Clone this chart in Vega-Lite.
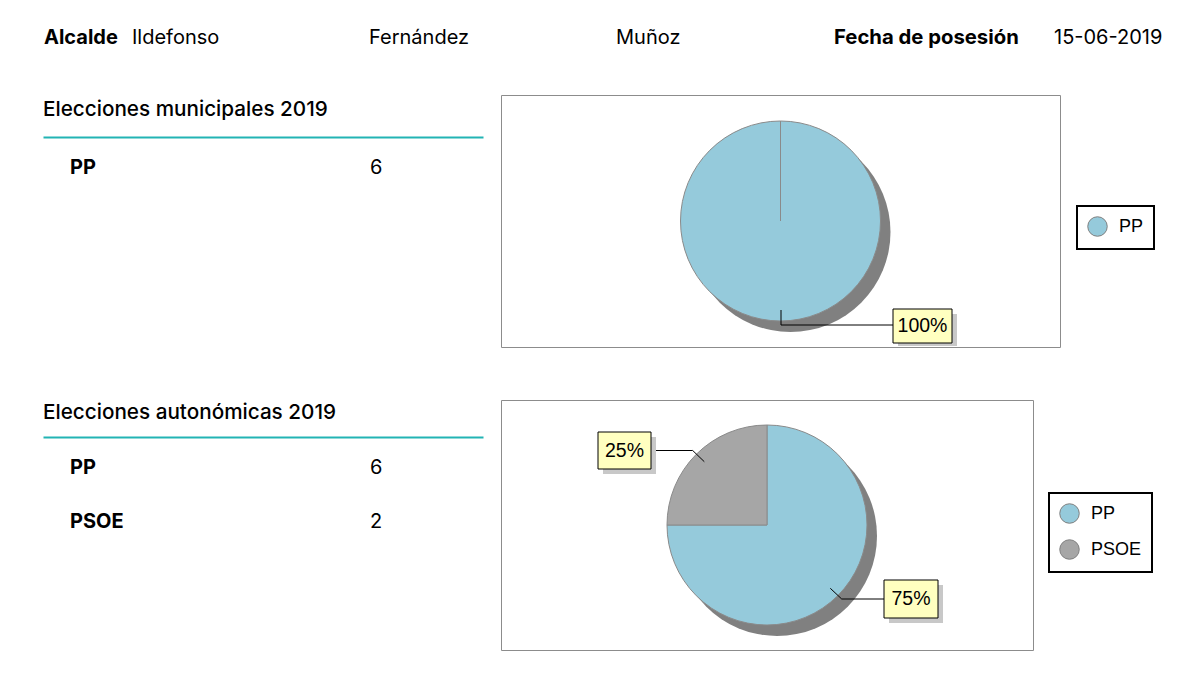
{
  "$schema": "https://vega.github.io/schema/vega-lite/v6.json",
  "background": "white",
  "padding": {"left": 43, "top": 20, "right": 0, "bottom": 0},
  "config": {
    "view": {"stroke": null},
    "font": "Inter",
    "text": {"color": "#000000"},
    "legend": {
      "padding": 10,
      "strokeColor": "#000000",
      "symbolType": "circle",
      "symbolSize": 380,
      "symbolStrokeColor": "#808080",
      "symbolStrokeWidth": 1,
      "symbolOpacity": 1,
      "labelFont": "Liberation Sans",
      "labelFontSize": 18,
      "labelColor": "#000000",
      "labelOffset": 11,
      "rowPadding": 11
    }
  },
  "datasets": {
    "alcalde": [{"nombre": "Ildefonso", "apellido1": "Fernández", "apellido2": "Muñoz", "fecha_posesion": "15-06-2019"}],
    "municipales_2019": [{"partido": "PP", "concejales": 6, "porcentaje": 1}],
    "autonomicas_2019": [
      {"partido": "PP", "concejales": 6, "porcentaje": 0.75},
      {"partido": "PSOE", "concejales": 2, "porcentaje": 0.25}
    ]
  },
  "spacing": 38,
  "resolve": {"scale": {"color": "independent", "theta": "independent"}, "legend": {"color": "independent"}},
  "vconcat": [
    {
      "spacing": 0,
      "hconcat": [
        {"width": 89, "height": 36, "data": {"name": "alcalde"},
         "mark": {"type": "text", "align": "left", "baseline": "middle", "fontSize": 20, "fontWeight": "bold", "dx": 1},
         "encoding": {"x": {"datum": "c", "type": "nominal", "scale": {"type": "point", "align": 0}, "axis": null}, "text": {"value": "Alcalde"}}},
        {"width": 237, "height": 36, "data": {"name": "alcalde"},
         "mark": {"type": "text", "align": "left", "baseline": "middle", "fontSize": 20},
         "encoding": {"x": {"datum": "c", "type": "nominal", "scale": {"type": "point", "align": 0}, "axis": null}, "text": {"field": "nombre"}}},
        {"width": 247, "height": 36, "data": {"name": "alcalde"},
         "mark": {"type": "text", "align": "left", "baseline": "middle", "fontSize": 20},
         "encoding": {"x": {"datum": "c", "type": "nominal", "scale": {"type": "point", "align": 0}, "axis": null}, "text": {"field": "apellido1"}}},
        {"width": 218, "height": 36, "data": {"name": "alcalde"},
         "mark": {"type": "text", "align": "left", "baseline": "middle", "fontSize": 20},
         "encoding": {"x": {"datum": "c", "type": "nominal", "scale": {"type": "point", "align": 0}, "axis": null}, "text": {"field": "apellido2"}}},
        {"width": 220, "height": 36, "data": {"name": "alcalde"},
         "mark": {"type": "text", "align": "left", "baseline": "middle", "fontSize": 20.3, "fontWeight": "bold"},
         "encoding": {"x": {"datum": "c", "type": "nominal", "scale": {"type": "point", "align": 0}, "axis": null}, "text": {"value": "Fecha de posesión"}}},
        {"width": 110, "height": 36, "data": {"name": "alcalde"},
         "mark": {"type": "text", "align": "left", "baseline": "middle", "fontSize": 20},
         "encoding": {"x": {"datum": "c", "type": "nominal", "scale": {"type": "point", "align": 0}, "axis": null}, "text": {"field": "fecha_posesion"}}}
      ]
    },
    {
      "spacing": 51,
      "resolve": {"scale": {"color": "independent", "theta": "independent"}, "legend": {"color": "independent"}},
      "vconcat": [
        {
          "spacing": 17,
          "resolve": {"scale": {"color": "independent", "theta": "independent"}, "legend": {"color": "independent"}},
          "hconcat": [
            {
              "spacing": 0,
              "vconcat": [
                {"width": 440, "height": 42,
                 "data": {"values": [{"titulo": "Elecciones municipales 2019"}]},
                 "mark": {"type": "text", "align": "left", "baseline": "alphabetic", "fontSize": 20.7, "fontWeight": 500},
                 "encoding": {
                   "x": {"field": "titulo", "type": "nominal", "scale": {"type": "point", "align": 0},
                         "axis": {"orient": "bottom", "domainColor": "#22b4b4", "domainWidth": 2, "ticks": false, "labels": false, "title": null, "grid": false}},
                   "text": {"field": "titulo"}}},
                {"width": 440, "height": {"step": 54},
                 "data": {"name": "municipales_2019"},
                 "encoding": {"y": {"field": "partido", "type": "nominal", "scale": {"type": "point", "padding": 0.565}, "axis": null}},
                 "layer": [
                   {"mark": {"type": "text", "align": "left", "baseline": "middle", "fontSize": 20, "fontWeight": "bold"},
                    "encoding": {"x": {"datum": "Partido", "type": "nominal", "scale": {"type": "point", "domain": ["Partido", "Concejales"], "padding": 0.2333, "align": 0.1929}, "axis": null},
                                 "text": {"field": "partido"}}},
                   {"mark": {"type": "text", "align": "left", "baseline": "middle", "fontSize": 20},
                    "encoding": {"x": {"datum": "Concejales", "type": "nominal", "scale": {"type": "point", "domain": ["Partido", "Concejales"], "padding": 0.2333, "align": 0.1929}, "axis": null},
                                 "text": {"field": "concejales", "type": "quantitative"}}}
                 ]}
              ]
            },
            {
              "width": 559, "height": 252,
              "view": {"stroke": "#8c8c8c"},
              "data": {"name": "municipales_2019"},
              "layer": [
                {"mark": {"type": "arc", "radius": 100, "fill": "#808080", "xOffset": 10, "yOffset": 11},
                 "encoding": {"theta": {"aggregate": "sum", "field": "concejales", "type": "quantitative"}}},
                {"mark": {"type": "arc", "radius": 100, "stroke": "#8a8a8a", "strokeWidth": 1},
                 "encoding": {
                   "theta": {"field": "concejales", "type": "quantitative"},
                   "order": {"field": "partido", "sort": "ascending"},
                   "color": {"field": "partido", "type": "nominal", "scale": {"domain": ["PP"], "range": ["#95cadb"]},
                             "legend": {"title": null, "orient": "none", "legendX": 576, "legendY": 111,
                                        "encode": {"legend": {"update": {"strokeWidth": {"value": 2}}}}}}}},
                {"mark": {"type": "rule", "color": "#8a8a8a", "strokeWidth": 1},
                 "encoding": {
                   "x": {"datum": 0, "type": "quantitative", "scale": {"domain": [-2.795, 2.795], "nice": false, "zero": false}, "axis": null},
                   "y": {"datum": 0, "type": "quantitative", "scale": {"domain": [-1.26, 1.26], "nice": false, "zero": false}, "axis": null},
                   "y2": {"datum": 1}}},
                {"mark": {"type": "rule", "color": "#000000", "strokeWidth": 1},
                 "encoding": {
                   "x": {"datum": 0.005, "type": "quantitative", "scale": {"domain": [-2.795, 2.795], "nice": false, "zero": false}, "axis": null},
                   "y": {"datum": -0.89, "type": "quantitative", "scale": {"domain": [-1.26, 1.26], "nice": false, "zero": false}, "axis": null},
                   "y2": {"datum": -1.04}}},
                {"mark": {"type": "rule", "color": "#000000", "strokeWidth": 1},
                 "encoding": {
                   "x": {"datum": 0.005, "type": "quantitative", "scale": {"domain": [-2.795, 2.795], "nice": false, "zero": false}, "axis": null},
                   "x2": {"datum": 1.125},
                   "y": {"datum": -1.04, "type": "quantitative", "scale": {"domain": [-1.26, 1.26], "nice": false, "zero": false}, "axis": null}}},
                {"mark": {"type": "rect", "fill": "#c8c8c8"},
                 "encoding": {
                   "x": {"datum": 1.175, "type": "quantitative", "scale": {"domain": [-2.795, 2.795], "nice": false, "zero": false}, "axis": null},
                   "x2": {"datum": 1.765},
                   "y": {"datum": -0.93, "type": "quantitative", "scale": {"domain": [-1.26, 1.26], "nice": false, "zero": false}, "axis": null},
                   "y2": {"datum": -1.25}}},
                {"mark": {"type": "rect", "fill": "#ffffc0", "stroke": "#000000", "strokeWidth": 1},
                 "encoding": {
                   "x": {"datum": 1.125, "type": "quantitative", "scale": {"domain": [-2.795, 2.795], "nice": false, "zero": false}, "axis": null},
                   "x2": {"datum": 1.715},
                   "y": {"datum": -0.88, "type": "quantitative", "scale": {"domain": [-1.26, 1.26], "nice": false, "zero": false}, "axis": null},
                   "y2": {"datum": -1.22}}},
                {"mark": {"type": "text", "font": "Liberation Sans", "fontSize": 19.5, "align": "center", "baseline": "middle"},
                 "encoding": {
                   "x": {"datum": 1.42, "type": "quantitative", "scale": {"domain": [-2.795, 2.795], "nice": false, "zero": false}, "axis": null},
                   "y": {"datum": -1.05, "type": "quantitative", "scale": {"domain": [-1.26, 1.26], "nice": false, "zero": false}, "axis": null},
                   "text": {"field": "porcentaje", "type": "quantitative", "format": ".0%"}}}
              ]
            }
          ]
        },
        {
          "spacing": 17,
          "resolve": {"scale": {"color": "independent", "theta": "independent"}, "legend": {"color": "independent"}},
          "hconcat": [
            {
              "spacing": 0,
              "vconcat": [
                {"width": 440, "height": 37,
                 "data": {"values": [{"titulo": "Elecciones autonómicas 2019"}]},
                 "mark": {"type": "text", "align": "left", "baseline": "alphabetic", "fontSize": 20.7, "fontWeight": 500},
                 "encoding": {
                   "x": {"field": "titulo", "type": "nominal", "scale": {"type": "point", "align": 0},
                         "axis": {"orient": "bottom", "domainColor": "#22b4b4", "domainWidth": 2, "ticks": false, "labels": false, "title": null, "grid": false}},
                   "text": {"field": "titulo"}}},
                {"width": 440, "height": {"step": 54},
                 "data": {"name": "autonomicas_2019"},
                 "encoding": {"y": {"field": "partido", "type": "nominal", "scale": {"type": "point", "padding": 0.565}, "axis": null}},
                 "layer": [
                   {"mark": {"type": "text", "align": "left", "baseline": "middle", "fontSize": 20, "fontWeight": "bold"},
                    "encoding": {"x": {"datum": "Partido", "type": "nominal", "scale": {"type": "point", "domain": ["Partido", "Concejales"], "padding": 0.2333, "align": 0.1929}, "axis": null},
                                 "text": {"field": "partido"}}},
                   {"mark": {"type": "text", "align": "left", "baseline": "middle", "fontSize": 20},
                    "encoding": {"x": {"datum": "Concejales", "type": "nominal", "scale": {"type": "point", "domain": ["Partido", "Concejales"], "padding": 0.2333, "align": 0.1929}, "axis": null},
                                 "text": {"field": "concejales", "type": "quantitative"}}}
                 ]}
              ]
            },
            {
              "width": 532, "height": 250,
              "view": {"stroke": "#8c8c8c"},
              "data": {"name": "autonomicas_2019"},
              "layer": [
                {"mark": {"type": "arc", "radius": 100, "fill": "#808080", "xOffset": 10, "yOffset": 11},
                 "encoding": {"theta": {"aggregate": "sum", "field": "concejales", "type": "quantitative"}}},
                {"mark": {"type": "arc", "radius": 100, "stroke": "#8a8a8a", "strokeWidth": 1},
                 "encoding": {
                   "theta": {"field": "concejales", "type": "quantitative"},
                   "order": {"field": "partido", "sort": "ascending"},
                   "color": {"field": "partido", "type": "nominal", "scale": {"domain": ["PP", "PSOE"], "range": ["#95cadb", "#a6a6a6"]},
                             "legend": {"title": null, "orient": "none", "legendX": 548, "legendY": 93,
                                        "encode": {"legend": {"update": {"strokeWidth": {"value": 2}}}}}}}},
                {"transform": [{"filter": {"field": "partido", "equal": "PSOE"}}],
                 "mark": {"type": "rule", "color": "#000000", "strokeWidth": 1},
                 "encoding": {
                   "x": {"datum": -1.16, "type": "quantitative", "scale": {"domain": [-2.66, 2.66], "nice": false, "zero": false}, "axis": null},
                   "x2": {"datum": -0.743},
                   "y": {"datum": 0.745, "type": "quantitative", "scale": {"domain": [-1.25, 1.25], "nice": false, "zero": false}, "axis": null}}},
                {"transform": [{"filter": {"field": "partido", "equal": "PSOE"}}],
                 "mark": {"type": "rule", "color": "#000000", "strokeWidth": 1},
                 "encoding": {
                   "x": {"datum": -0.743, "type": "quantitative", "scale": {"domain": [-2.66, 2.66], "nice": false, "zero": false}, "axis": null},
                   "x2": {"datum": -0.627},
                   "y": {"datum": 0.745, "type": "quantitative", "scale": {"domain": [-1.25, 1.25], "nice": false, "zero": false}, "axis": null},
                   "y2": {"datum": 0.633}}},
                {"transform": [{"filter": {"field": "partido", "equal": "PSOE"}}],
                 "mark": {"type": "rect", "fill": "#c8c8c8"},
                 "encoding": {
                   "x": {"datum": -1.64, "type": "quantitative", "scale": {"domain": [-2.66, 2.66], "nice": false, "zero": false}, "axis": null},
                   "x2": {"datum": -1.11},
                   "y": {"datum": 0.88, "type": "quantitative", "scale": {"domain": [-1.25, 1.25], "nice": false, "zero": false}, "axis": null},
                   "y2": {"datum": 0.51}}},
                {"transform": [{"filter": {"field": "partido", "equal": "PSOE"}}],
                 "mark": {"type": "rect", "fill": "#ffffc0", "stroke": "#000000", "strokeWidth": 1},
                 "encoding": {
                   "x": {"datum": -1.69, "type": "quantitative", "scale": {"domain": [-2.66, 2.66], "nice": false, "zero": false}, "axis": null},
                   "x2": {"datum": -1.16},
                   "y": {"datum": 0.93, "type": "quantitative", "scale": {"domain": [-1.25, 1.25], "nice": false, "zero": false}, "axis": null},
                   "y2": {"datum": 0.56}}},
                {"transform": [{"filter": {"field": "partido", "equal": "PSOE"}}],
                 "mark": {"type": "text", "font": "Liberation Sans", "fontSize": 19.5, "align": "center", "baseline": "middle"},
                 "encoding": {
                   "x": {"datum": -1.425, "type": "quantitative", "scale": {"domain": [-2.66, 2.66], "nice": false, "zero": false}, "axis": null},
                   "y": {"datum": 0.745, "type": "quantitative", "scale": {"domain": [-1.25, 1.25], "nice": false, "zero": false}, "axis": null},
                   "text": {"field": "porcentaje", "type": "quantitative", "format": ".0%"}}},
                {"transform": [{"filter": {"field": "partido", "equal": "PP"}}],
                 "mark": {"type": "rule", "color": "#000000", "strokeWidth": 1},
                 "encoding": {
                   "x": {"datum": 0.633, "type": "quantitative", "scale": {"domain": [-2.66, 2.66], "nice": false, "zero": false}, "axis": null},
                   "x2": {"datum": 0.747},
                   "y": {"datum": -0.633, "type": "quantitative", "scale": {"domain": [-1.25, 1.25], "nice": false, "zero": false}, "axis": null},
                   "y2": {"datum": -0.74}}},
                {"transform": [{"filter": {"field": "partido", "equal": "PP"}}],
                 "mark": {"type": "rule", "color": "#000000", "strokeWidth": 1},
                 "encoding": {
                   "x": {"datum": 0.747, "type": "quantitative", "scale": {"domain": [-2.66, 2.66], "nice": false, "zero": false}, "axis": null},
                   "x2": {"datum": 1.17},
                   "y": {"datum": -0.74, "type": "quantitative", "scale": {"domain": [-1.25, 1.25], "nice": false, "zero": false}, "axis": null}}},
                {"transform": [{"filter": {"field": "partido", "equal": "PP"}}],
                 "mark": {"type": "rect", "fill": "#c8c8c8"},
                 "encoding": {
                   "x": {"datum": 1.22, "type": "quantitative", "scale": {"domain": [-2.66, 2.66], "nice": false, "zero": false}, "axis": null},
                   "x2": {"datum": 1.76},
                   "y": {"datum": -0.6, "type": "quantitative", "scale": {"domain": [-1.25, 1.25], "nice": false, "zero": false}, "axis": null},
                   "y2": {"datum": -0.98}}},
                {"transform": [{"filter": {"field": "partido", "equal": "PP"}}],
                 "mark": {"type": "rect", "fill": "#ffffc0", "stroke": "#000000", "strokeWidth": 1},
                 "encoding": {
                   "x": {"datum": 1.17, "type": "quantitative", "scale": {"domain": [-2.66, 2.66], "nice": false, "zero": false}, "axis": null},
                   "x2": {"datum": 1.71},
                   "y": {"datum": -0.55, "type": "quantitative", "scale": {"domain": [-1.25, 1.25], "nice": false, "zero": false}, "axis": null},
                   "y2": {"datum": -0.93}}},
                {"transform": [{"filter": {"field": "partido", "equal": "PP"}}],
                 "mark": {"type": "text", "font": "Liberation Sans", "fontSize": 19.5, "align": "center", "baseline": "middle"},
                 "encoding": {
                   "x": {"datum": 1.44, "type": "quantitative", "scale": {"domain": [-2.66, 2.66], "nice": false, "zero": false}, "axis": null},
                   "y": {"datum": -0.74, "type": "quantitative", "scale": {"domain": [-1.25, 1.25], "nice": false, "zero": false}, "axis": null},
                   "text": {"field": "porcentaje", "type": "quantitative", "format": ".0%"}}}
              ]
            }
          ]
        }
      ]
    }
  ]
}
